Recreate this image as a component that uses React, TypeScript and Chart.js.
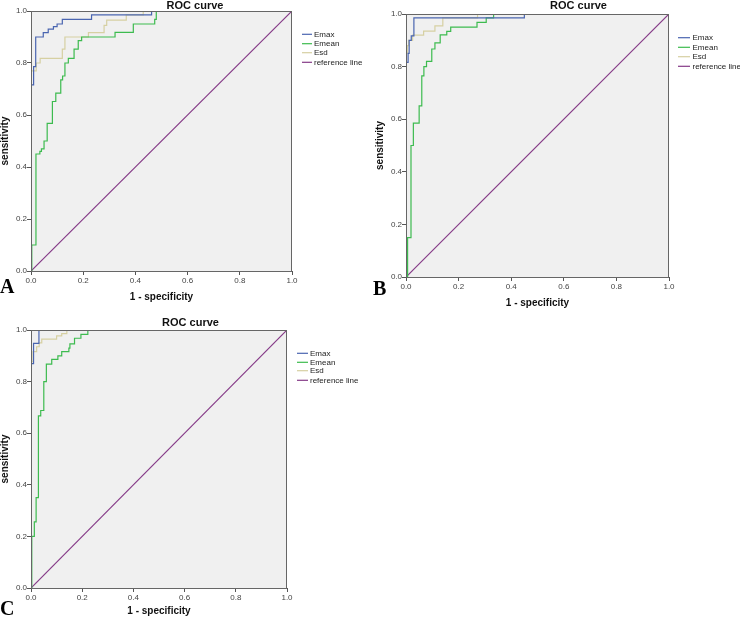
import React, { useEffect, useRef } from 'react';
import { Chart, registerables } from 'chart.js';
Chart.register(...registerables);

// ---------- data ----------
const seriesNames = ['Emax', 'Emean', 'Esd', 'reference line'];
const axisTicks = [0, 0.2, 0.4, 0.6, 0.8, 1.0];
const panelTitle = 'ROC curve';
const xTitle = '1 - specificity';
const yTitle = 'sensitivity';
const refX = [0, 1];
const refY = [0, 1];

// Panel A
const aEmaxX = [0, 0, 0.01, 0.018, 0.047, 0.066, 0.086, 0.10, 0.12, 0.232, 0.462, 1];
const aEmaxY = [0, 0.716, 0.786, 0.90, 0.917, 0.93, 0.94, 0.95, 0.968, 0.985, 1, 1];
const aEmeanX = [0, 0.003, 0.019, 0.034, 0.04, 0.05, 0.062, 0.082, 0.095, 0.114, 0.121, 0.13, 0.143, 0.165, 0.181, 0.194, 0.322, 0.392, 0.474, 0.48, 1];
const aEmeanY = [0, 0.10, 0.45, 0.46, 0.47, 0.50, 0.568, 0.652, 0.684, 0.735, 0.75, 0.80, 0.818, 0.853, 0.886, 0.90, 0.918, 0.95, 0.968, 1, 1];
const aEsdX = [0, 0, 0.02, 0.035, 0.12, 0.13, 0.22, 0.28, 0.29, 0.365, 0.43, 1];
const aEsdY = [0, 0.77, 0.80, 0.818, 0.853, 0.90, 0.917, 0.945, 0.965, 0.985, 1, 1];

// Panel B
const bEmaxX = [0, 0, 0.008, 0.012, 0.02, 0.03, 0.45, 1];
const bEmaxY = [0, 0.816, 0.85, 0.90, 0.917, 0.985, 1, 1];
const bEmeanX = [0, 0.006, 0.019, 0.028, 0.05, 0.06, 0.068, 0.078, 0.098, 0.11, 0.13, 0.155, 0.17, 0.27, 0.305, 0.333, 1];
const bEmeanY = [0, 0.15, 0.50, 0.585, 0.651, 0.765, 0.80, 0.82, 0.867, 0.89, 0.921, 0.934, 0.95, 0.968, 0.985, 1, 1];
const bEsdX = [0, 0, 0.005, 0.01, 0.025, 0.067, 0.11, 0.14, 0.272, 1];
const bEsdY = [0, 0.85, 0.88, 0.90, 0.92, 0.935, 0.955, 0.985, 1, 1];

// Panel C
const cEmaxX = [0, 0, 0.01, 0.031, 1];
const cEmaxY = [0, 0.87, 0.948, 1, 1];
const cEmeanX = [0, 0.003, 0.013, 0.02, 0.029, 0.038, 0.05, 0.06, 0.081, 0.105, 0.12, 0.148, 0.152, 0.17, 0.195, 0.222, 1];
const cEmeanY = [0, 0.20, 0.256, 0.35, 0.667, 0.688, 0.80, 0.868, 0.886, 0.90, 0.916, 0.93, 0.946, 0.968, 0.983, 1, 1];
const cEsdX = [0, 0, 0.008, 0.022, 0.032, 0.042, 0.10, 0.12, 0.14, 1];
const cEsdY = [0, 0.877, 0.916, 0.935, 0.95, 0.965, 0.977, 0.986, 1, 1];

// ---------- styles ----------
const COLORS = ['#4a65b0', '#3dbb4f', '#d6d0a2', '#853a87'];
const FONT = '"Liberation Sans", Arial, sans-serif';

type Cfg = {
  letter: string;
  left: number; top: number; w: number; h: number;
  padTop: number; padRight: number; yAxisW: number; xAxisH: number;
  yTitlePad: number; xTitlePad: number;
  titleX: number; titleY: number;
  legLine: [number, number]; legText: number; legRows: number[];
  letterX: number; letterY: number;
  series: [number[], number[]][];
};

const panels: Cfg[] = [
  {
    letter: 'A', left: 0, top: 0, w: 370, h: 305,
    padTop: 11, padRight: 78, yAxisW: 31, xAxisH: 34,
    yTitlePad: 0, xTitlePad: 3,
    titleX: 195, titleY: 5.5,
    legLine: [302, 312], legText: 314, legRows: [34.3, 43.7, 52.7, 62.3],
    letterX: 0, letterY: 293,
    series: [[aEmaxX, aEmaxY], [aEmeanX, aEmeanY], [aEsdX, aEsdY], [refX, refY]],
  },
  {
    letter: 'B', left: 370, top: 0, w: 370, h: 311,
    padTop: 14, padRight: 71, yAxisW: 36, xAxisH: 34,
    yTitlePad: 5, xTitlePad: 3,
    titleX: 208.5, titleY: 6,
    legLine: [308, 320], legText: 322.5, legRows: [37.7, 47.3, 56.7, 66.3],
    letterX: 3, letterY: 295,
    series: [[bEmaxX, bEmaxY], [bEmeanX, bEmeanY], [bEsdX, bEsdY], [refX, refY]],
  },
  {
    letter: 'C', left: 0, top: 305, w: 370, h: 313,
    padTop: 25, padRight: 83, yAxisW: 31, xAxisH: 30,
    yTitlePad: 0, xTitlePad: 2,
    titleX: 190.5, titleY: 17.5,
    legLine: [297, 308], legText: 310, legRows: [48.3, 57.3, 65.7, 75.3],
    letterX: 0, letterY: 310,
    series: [[cEmaxX, cEmaxY], [cEmeanX, cEmeanY], [cEsdX, cEsdY], [refX, refY]],
  },
];

function Panel({ cfg }: { cfg: Cfg }) {
  const ref = useRef<HTMLCanvasElement>(null);
  useEffect(() => {
    const canvas = ref.current!;
    const datasets = cfg.series.map(([xs, ys], i) => ({
      label: seriesNames[i],
      data: xs.map((x, j) => ({ x, y: ys[j] })),
      borderColor: COLORS[i],
      backgroundColor: COLORS[i],
      borderWidth: 1.2,
      pointRadius: 0,
      showLine: true,
      fill: false,
      stepped: i < 3 ? ('before' as const) : false,
    }));
    const decor = {
      id: 'decor',
      beforeDatasetsDraw(chart: any) {
        const { ctx, chartArea: a } = chart;
        ctx.save();
        ctx.fillStyle = '#f0f0f0';
        ctx.fillRect(a.left, a.top, a.right - a.left, a.bottom - a.top);
        ctx.restore();
      },
      afterDatasetsDraw(chart: any) {
        const { ctx, chartArea: a } = chart;
        ctx.save();
        ctx.strokeStyle = '#666';
        ctx.lineWidth = 1;
        ctx.strokeRect(a.left + 0.5, a.top + 0.5, a.right - a.left - 1, a.bottom - a.top);
        ctx.restore();
      },
      afterDraw(chart: any) {
        const { ctx } = chart;
        ctx.save();
        ctx.fillStyle = '#111';
        ctx.font = `bold 11px ${FONT}`;
        ctx.textAlign = 'center';
        ctx.textBaseline = 'middle';
        ctx.fillText(panelTitle, cfg.titleX, cfg.titleY);
        ctx.font = `8px ${FONT}`;
        ctx.textAlign = 'left';
        seriesNames.forEach((name, i) => {
          const y = cfg.legRows[i];
          ctx.strokeStyle = COLORS[i];
          ctx.lineWidth = 1.2;
          ctx.beginPath();
          ctx.moveTo(cfg.legLine[0], y);
          ctx.lineTo(cfg.legLine[1], y);
          ctx.stroke();
          ctx.fillStyle = '#222';
          ctx.fillText(name, cfg.legText, y);
        });
        ctx.fillStyle = '#000';
        ctx.font = 'bold 20px "Liberation Serif", "Times New Roman", serif';
        ctx.textBaseline = 'alphabetic';
        ctx.fillText(cfg.letter, cfg.letterX, cfg.letterY);
        ctx.restore();
      },
    };
    const tickFont = { family: FONT, size: 8 };
    const titleFont = { family: FONT, size: 10, weight: 'bold' as const, lineHeight: 1 };
    const chart = new Chart(canvas, {
      type: 'scatter',
      data: { datasets: datasets as any },
      options: {
        animation: false,
        responsive: false,
        layout: { padding: { left: 0, top: cfg.padTop, right: cfg.padRight, bottom: 0 } },
        plugins: { legend: { display: false }, title: { display: false }, tooltip: { enabled: false } },
        scales: {
          x: {
            type: 'linear', min: 0, max: 1,
            afterBuildTicks: (s: any) => { s.ticks = axisTicks.map((v) => ({ value: v })); },
            afterFit: (s: any) => { s.height = cfg.xAxisH; },
            ticks: { font: tickFont, color: '#444', padding: 1, maxRotation: 0, autoSkip: false, callback: (v: any) => Number(v).toFixed(1) },
            grid: { drawOnChartArea: false, drawTicks: true, tickLength: 4, color: '#555' },
            border: { display: true, color: '#555' },
            title: { display: true, text: xTitle, font: titleFont, color: '#111', padding: { top: 0, bottom: cfg.xTitlePad } },
          },
          y: {
            type: 'linear', min: 0, max: 1,
            afterBuildTicks: (s: any) => { s.ticks = axisTicks.map((v) => ({ value: v })); },
            afterFit: (s: any) => { s.width = cfg.yAxisW; },
            ticks: { font: tickFont, color: '#444', padding: 0, autoSkip: false, callback: (v: any) => Number(v).toFixed(1) },
            grid: { drawOnChartArea: false, drawTicks: true, tickLength: 4, color: '#555' },
            border: { display: true, color: '#555' },
            title: { display: true, text: yTitle, font: titleFont, color: '#111', padding: { top: cfg.yTitlePad, bottom: 0 } },
          },
        },
      },
      plugins: [decor],
    });
    return () => chart.destroy();
  }, [cfg]);
  return (
    <canvas
      ref={ref}
      width={cfg.w}
      height={cfg.h}
      style={{ position: 'absolute', left: cfg.left, top: cfg.top, width: cfg.w, height: cfg.h }}
    />
  );
}

export default function App() {
  return (
    <div style={{ position: 'fixed', left: 0, top: 0, width: 740, height: 618, background: '#fff', overflow: 'hidden' }}>
      {panels.map((p) => (
        <Panel key={p.letter} cfg={p} />
      ))}
    </div>
  );
}
